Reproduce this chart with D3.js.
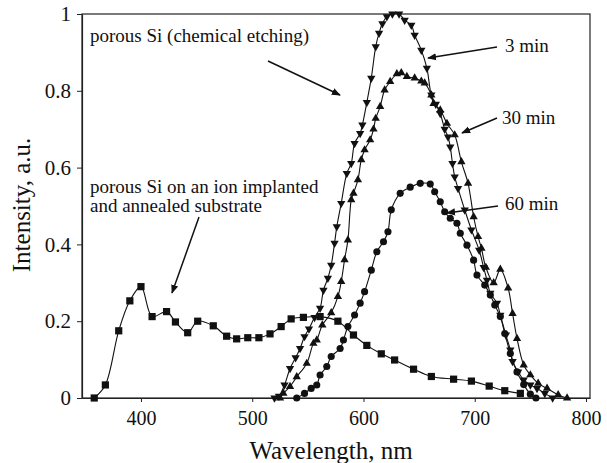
<!DOCTYPE html>
<html>
<head>
<meta charset="utf-8">
<script src="https://cdn.jsdelivr.net/npm/d3@7"></script>
<style>
  body { margin: 0; background: #fff; }
</style>
</head>
<body>
<svg id="chart" width="607" height="463"></svg>
<script>
// wavelength (nm) / intensity pairs
const ionWl  = [358, 368, 380, 390, 400, 410, 423, 431, 442, 451, 465, 477, 486, 496, 506, 516, 526, 535, 546, 561, 577, 591, 603, 616, 628, 645, 661, 681, 697, 713, 727, 741];
const ionInt = [0, 0.034, 0.175, 0.253, 0.29, 0.212, 0.225, 0.198, 0.17, 0.2, 0.188, 0.161, 0.154, 0.157, 0.157, 0.167, 0.186, 0.206, 0.21, 0.212, 0.2, 0.164, 0.137, 0.115, 0.099, 0.075, 0.056, 0.049, 0.044, 0.031, 0.019, 0.012];

const min3Wl  = [520, 524, 529, 534, 539, 543, 547, 551, 556, 561, 564, 568, 571, 574, 576, 580, 585, 589, 592, 597, 599, 603, 607, 611, 614, 617, 621, 626, 632, 637, 643, 646, 652, 657, 661, 665, 669, 673, 676, 678, 680, 682, 685, 691, 697, 704, 708, 711, 714, 720, 723, 728, 732, 734, 739, 744, 750, 756, 763, 770];
const min3Int = [0, 0.005, 0.034, 0.077, 0.105, 0.129, 0.16, 0.18, 0.21, 0.234, 0.281, 0.312, 0.346, 0.403, 0.446, 0.507, 0.585, 0.611, 0.663, 0.689, 0.711, 0.77, 0.833, 0.915, 0.95, 0.975, 0.993, 1.0, 1.0, 0.984, 0.971, 0.945, 0.906, 0.859, 0.789, 0.765, 0.741, 0.7, 0.68, 0.654, 0.611, 0.576, 0.546, 0.49, 0.438, 0.385, 0.34, 0.307, 0.273, 0.247, 0.216, 0.164, 0.125, 0.095, 0.068, 0.047, 0.034, 0.025, 0.012, 0];

const min30Wl  = [525, 528, 534, 540, 549, 555, 558, 563, 571, 577, 580, 583, 586, 589, 591, 595, 598, 601, 606, 609, 611, 615, 619, 624, 630, 634, 639, 646, 652, 655, 661, 663, 669, 675, 682, 688, 694, 699, 703, 706, 710, 717, 723, 730, 734, 738, 744, 750, 757, 765, 775, 783];
const min30Int = [0, 0.012, 0.03, 0.055, 0.09, 0.142, 0.151, 0.19, 0.222, 0.264, 0.303, 0.36, 0.411, 0.516, 0.533, 0.568, 0.62, 0.646, 0.672, 0.7, 0.728, 0.759, 0.802, 0.824, 0.844, 0.847, 0.837, 0.833, 0.825, 0.82, 0.789, 0.767, 0.75, 0.715, 0.685, 0.615, 0.559, 0.472, 0.42, 0.39, 0.34, 0.3, 0.335, 0.286, 0.22, 0.155, 0.086, 0.06, 0.038, 0.025, 0.008, 0];

const min60Wl  = [540, 547, 553, 558, 561, 567, 571, 579, 582, 586, 592, 597, 601, 607, 612, 618, 622, 625, 633, 642, 651, 660, 664, 669, 673, 678, 684, 687, 693, 699, 702, 709, 714, 718, 723, 727, 732, 738, 744, 750, 755];
const min60Int = [0, 0.012, 0.025, 0.034, 0.06, 0.082, 0.108, 0.129, 0.151, 0.186, 0.216, 0.247, 0.277, 0.333, 0.381, 0.407, 0.433, 0.49, 0.533, 0.549, 0.559, 0.557, 0.537, 0.511, 0.485, 0.468, 0.455, 0.429, 0.398, 0.359, 0.32, 0.294, 0.268, 0.242, 0.212, 0.168, 0.116, 0.068, 0.035, 0.01, 0];

const xTicks = [400, 500, 600, 700, 800];
const yTicks = [0, 0.2, 0.4, 0.6, 0.8, 1];

const FONT = "Liberation Serif";

const svg = d3.select("#chart");

const x = d3.scaleLinear().domain([347, 803.6]).range([82, 590]);
const y = d3.scaleLinear().domain([0, 1]).range([398, 14]);

// frame
svg.append("rect")
    .attr("x", x.range()[0]).attr("y", y.range()[1])
    .attr("width", x.range()[1] - x.range()[0])
    .attr("height", y.range()[0] - y.range()[1])
    .attr("fill", "none").attr("stroke", "#222").attr("stroke-width", 1.2);

const xAxis = svg.append("g")
    .attr("transform", `translate(0,${y(0)})`)
    .call(d3.axisBottom(x).tickValues(xTicks).tickSize(4).tickSizeOuter(0).tickPadding(9));
const yAxis = svg.append("g")
    .attr("transform", `translate(${x.range()[0]},0)`)
    .call(d3.axisLeft(y).tickValues(yTicks).tickSize(5).tickSizeOuter(0).tickPadding(6).tickFormat(d3.format("~g")));

[xAxis, yAxis].forEach(g => {
    g.attr("font-family", FONT);
    g.select(".domain").attr("stroke", "#222").attr("stroke-width", 1.2);
    g.selectAll(".tick line").attr("stroke", "#222");
    g.selectAll("text").attr("fill", "#111");
});
xAxis.attr("font-size", 20);
yAxis.attr("font-size", 21);

// axis titles
svg.append("text")
    .attr("x", 331).attr("y", 459)
    .attr("text-anchor", "middle")
    .attr("font-family", FONT)
    .attr("font-size", 25)
    .attr("fill", "#111")
    .text("Wavelength, nm");

svg.append("text")
    .attr("transform", "translate(30,205) rotate(-90)")
    .attr("text-anchor", "middle")
    .attr("font-family", FONT)
    .attr("font-size", 25)
    .attr("fill", "#111")
    .text("Intensity, a.u.");

const line = d3.line()
    .x(d => x(d[0]))
    .y(d => y(d[1]))
    .curve(d3.curveCatmullRom.alpha(0.5));

const series = [
    {wl: ionWl, val: ionInt, shape: "square"},
    {wl: min60Wl, val: min60Int, shape: "circle"},
    {wl: min30Wl, val: min30Int, shape: "up"},
    {wl: min3Wl, val: min3Int, shape: "down"}
];

const plot = svg.append("g");

series.forEach(s => {
    const pts = s.wl.map((w, i) => [w, s.val[i]]);
    plot.append("path")
        .datum(pts)
        .attr("d", line)
        .attr("fill", "none")
        .attr("stroke", "#111")
        .attr("stroke-width", 1.1);

    let sym, size, rot = 0;
    if (s.shape === "square") { sym = d3.symbolSquare; size = 52; }
    else if (s.shape === "circle") { sym = d3.symbolCircle; size = 40; }
    else { sym = d3.symbolTriangle; size = 30; rot = s.shape === "down" ? 180 : 0; }

    plot.append("g")
        .selectAll("path")
        .data(pts)
        .join("path")
            .attr("transform", d => `translate(${x(d[0])},${y(d[1])}) rotate(${rot})`)
            .attr("d", d3.symbol().type(sym).size(size))
            .attr("fill", "#111");
});

// annotations
const notes = [
    {text: "porous Si (chemical etching)", x: 90, y: 42},
    {text: "porous Si on an ion implanted", x: 90, y: 193},
    {text: "and annealed substrate", x: 90, y: 212},
    {text: "3 min", x: 505, y: 52},
    {text: "30 min", x: 502, y: 124},
    {text: "60 min", x: 505, y: 210}
];
svg.selectAll(".note")
    .data(notes)
    .join("text")
        .attr("class", "note")
        .attr("x", d => d.x).attr("y", d => d.y)
        .attr("font-family", FONT)
        .attr("font-size", 19)
        .attr("fill", "#111")
        .text(d => d.text);

svg.append("defs").append("marker")
    .attr("id", "head")
    .attr("viewBox", "0 0 10 10")
    .attr("refX", 9).attr("refY", 5)
    .attr("markerWidth", 9).attr("markerHeight", 9)
    .attr("markerUnits", "userSpaceOnUse")
    .attr("orient", "auto")
    .append("path")
        .attr("d", "M0,1 L10,5 L0,9 Z")
        .attr("fill", "#111");

const arrows = [
    [268, 61, 340, 95],
    [199, 217, 172, 293],
    [497, 47, 428, 58],
    [497, 118, 462, 133],
    [498, 206, 447, 213]
];
svg.selectAll(".arrow")
    .data(arrows)
    .join("line")
        .attr("class", "arrow")
        .attr("x1", d => d[0]).attr("y1", d => d[1])
        .attr("x2", d => d[2]).attr("y2", d => d[3])
        .attr("stroke", "#111")
        .attr("stroke-width", 1.5)
        .attr("marker-end", "url(#head)");
</script>
</body>
</html>
